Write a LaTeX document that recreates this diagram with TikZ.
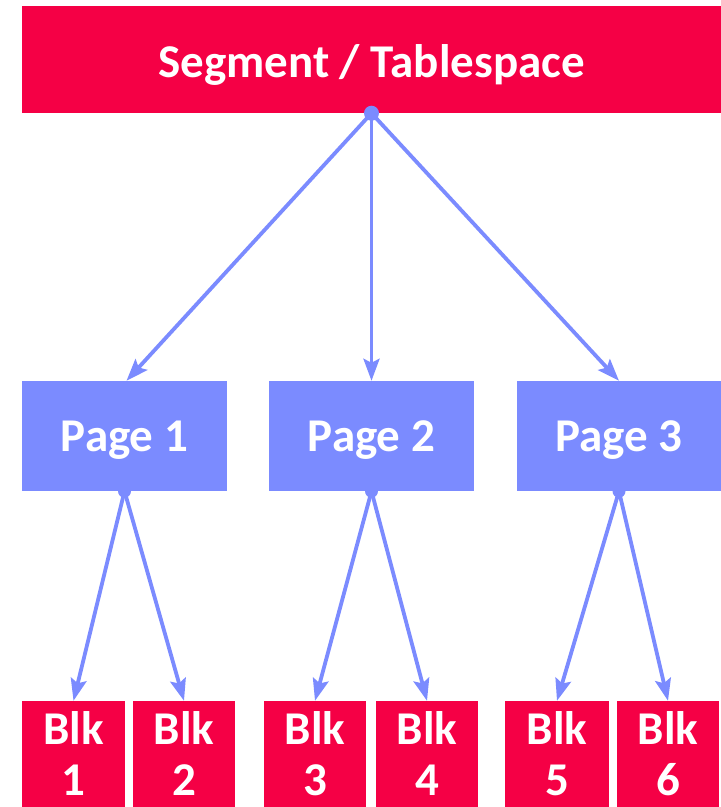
\documentclass[tikz,border=0pt]{standalone}
\usepackage{fontspec}
\setmainfont{Carlito}
\usetikzlibrary{arrows.meta}
\definecolor{segred}{HTML}{F50045}
\definecolor{pageblue}{HTML}{7B8BFF}
\begin{document}
\begin{tikzpicture}[x=1pt,y=-1pt,
  redbox/.style={fill=segred,draw=none,text=white,font=\fontsize{47}{51}\selectfont\bfseries,align=center,inner sep=0pt},
  bluebox/.style={fill=pageblue,draw=none,text=white,font=\fontsize{47}{51}\selectfont\bfseries,align=center,inner sep=0pt,minimum height=110pt,text height=30pt,text depth=0pt},
  blkbox/.style={redbox,minimum height=106pt},
  conn/.style={draw=pageblue,line width=3.8pt,-{Stealth[length=22pt,width=16pt,inset=4pt]}},
  hub/.style={fill=pageblue,draw=none,circle,inner sep=0pt,minimum size=15pt}
]
\useasboundingbox (0,0) rectangle (721,807);
\node[redbox,minimum width=699pt,minimum height=107pt,text height=35pt,text depth=0pt] (seg) at (371.5,59.5) {Segment / Tablespace};
\node[bluebox,minimum width=205pt] (p1) at (124.5,436) {Page 1};
\node[bluebox,minimum width=205pt] (p2) at (371.5,436) {Page 2};
\node[bluebox,minimum width=204pt] (p3) at (619,436) {Page 3};
\node[blkbox,minimum width=103pt] (b1) at (73.5,754) {Blk\\1};
\node[blkbox,minimum width=102pt] (b2) at (184,754) {Blk\\2};
\node[blkbox,minimum width=102pt] (b3) at (315,754) {Blk\\3};
\node[blkbox,minimum width=102pt] (b4) at (427,754) {Blk\\4};
\node[blkbox,minimum width=104pt] (b5) at (557,754) {Blk\\5};
\node[blkbox,minimum width=102pt] (b6) at (668,754) {Blk\\6};
\coordinate (s0) at (seg.south);
\coordinate (q1) at (p1.south);
\coordinate (q2) at (p2.south);
\coordinate (q3) at (p3.south);
\draw[conn] (s0) -- ([xshift=2pt]p1.north);
\draw[conn] (s0) -- (p2.north);
\draw[conn] (s0) -- (p3.north);
\draw[conn] (q1) -- (b1.north);
\draw[conn] (q1) -- (b2.north);
\draw[conn] (q2) -- (b3.north);
\draw[conn] (q2) -- (b4.north);
\draw[conn] (q3) -- (b5.north);
\draw[conn] (q3) -- (b6.north);
\node[hub] (h0) at (s0) {};
\node[hub,minimum size=13pt] (h1) at (q1) {};
\node[hub,minimum size=13pt] (h2) at (q2) {};
\node[hub,minimum size=13pt] (h3) at (q3) {};
\end{tikzpicture}
\end{document}
